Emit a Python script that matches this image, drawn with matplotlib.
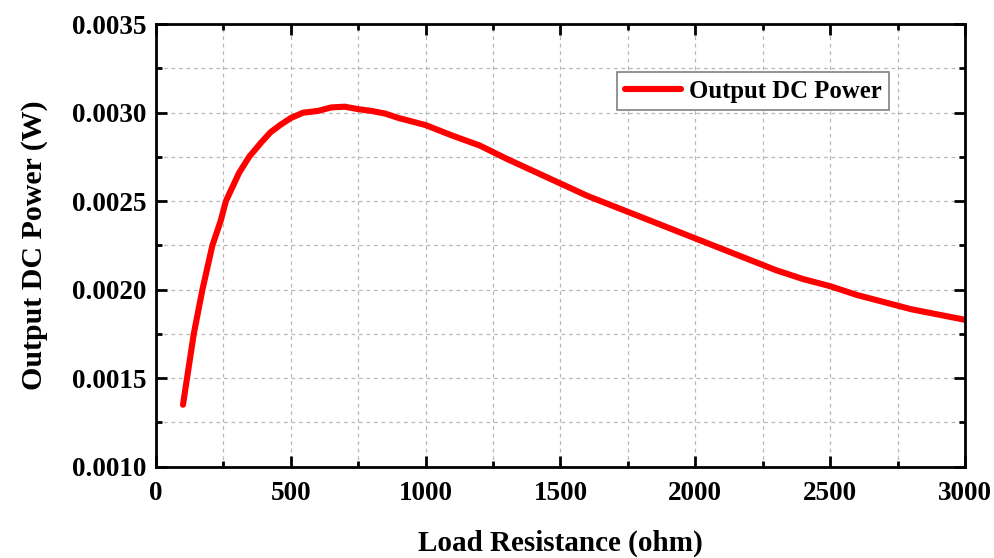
import matplotlib
matplotlib.use("Agg")
import matplotlib.pyplot as plt
from matplotlib.ticker import MultipleLocator, FormatStrFormatter

# load resistance (ohm) and output DC power (W)
resistance = [100, 115, 140, 172, 209, 240, 259, 308, 345, 389, 425, 460, 500,
              545, 600, 650, 700, 750, 800, 850, 900, 1000, 1100, 1200, 1300,
              1400, 1500, 1600, 1700, 1800, 1900, 2000, 2100, 2200, 2300, 2400,
              2500, 2600, 2700, 2800, 2900, 3000]
power = [0.00135, 0.00150, 0.00175, 0.00200, 0.00225, 0.00239, 0.00250,
         0.00266, 0.00275, 0.00283, 0.00289, 0.00293, 0.00297, 0.00300,
         0.00301, 0.00303, 0.003034, 0.00302, 0.00301, 0.002995, 0.00297,
         0.00293, 0.00287, 0.002815, 0.00274, 0.00267, 0.00260, 0.00253,
         0.00247, 0.00241, 0.00235, 0.00229, 0.00223, 0.00217, 0.00211,
         0.00206, 0.00202, 0.00197, 0.00193, 0.00189, 0.00186, 0.00183]

plt.rcParams['font.family'] = ['Liberation Serif', 'DejaVu Serif']
plt.rcParams['font.weight'] = 'bold'

fig = plt.figure(figsize=(9.95, 5.58), dpi=100)
ax = fig.add_axes([0.1568, 0.1636, 0.813, 0.793])

ax.plot(resistance, power, color='#ff0000', lw=4.4, solid_capstyle='round',
        solid_joinstyle='round', label='Output DC Power')

ax.set_xlim(0, 3000)
ax.set_ylim(0.0010, 0.0035)
ax.xaxis.set_major_locator(MultipleLocator(500))
ax.xaxis.set_minor_locator(MultipleLocator(250))
ax.yaxis.set_major_locator(MultipleLocator(0.0005))
ax.yaxis.set_minor_locator(MultipleLocator(0.00025))
ax.yaxis.set_major_formatter(FormatStrFormatter('%.4f'))

ax.grid(which='both', color='#b8b8b8', ls=(0, (3, 3)), lw=0.9)
ax.set_axisbelow(True)

for s in ax.spines.values():
    s.set_linewidth(2)
ax.tick_params(which='both', direction='in', top=True, right=True, width=2)
ax.tick_params(which='major', length=8, labelsize=19.5)
ax.tick_params(axis='x', which='major', pad=10)
ax.tick_params(axis='y', which='major', pad=7)
ax.tick_params(which='minor', length=4)
for lab in ax.get_xticklabels() + ax.get_yticklabels():
    lab.set_fontweight('bold')

ax.set_xlabel('Load Resistance (ohm)', fontsize=21, fontweight='bold', labelpad=17)
ax.set_ylabel('Output DC Power (W)', fontsize=21.5, fontweight='bold', labelpad=17)

leg = ax.legend(loc='upper left', bbox_to_anchor=(0.570, 0.8915), fontsize=17.8,
                fancybox=False, framealpha=1, edgecolor='#808080',
                borderaxespad=0, handlelength=2.3, borderpad=0.3,
                handletextpad=0.3)
leg.get_frame().set_linewidth(1.2)

fig.savefig('out.png', dpi=100)
